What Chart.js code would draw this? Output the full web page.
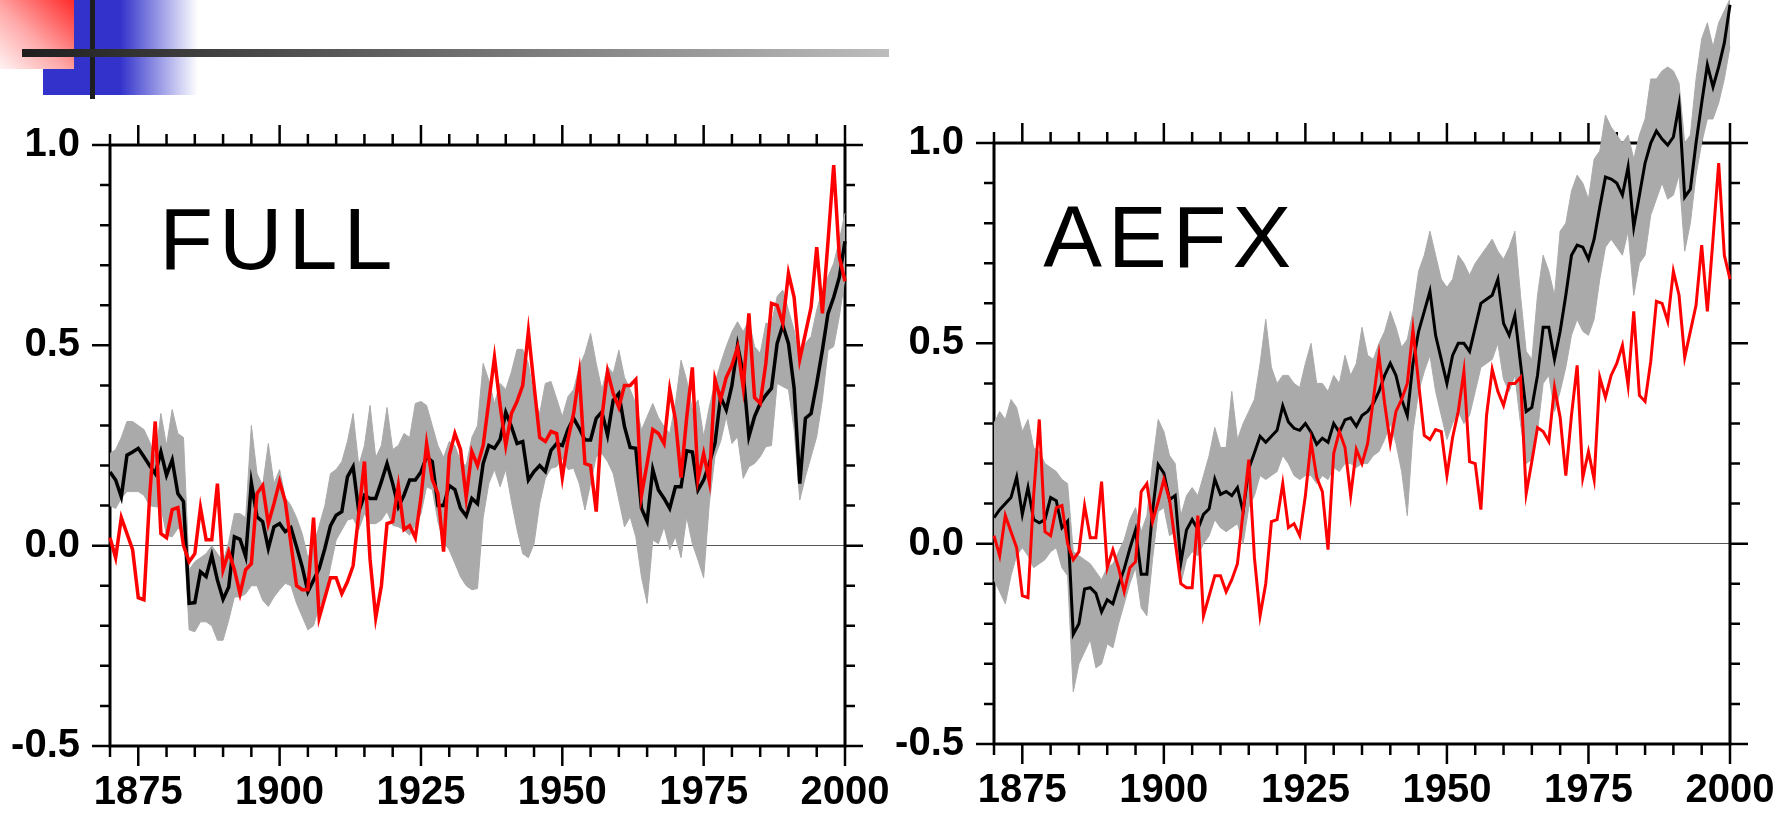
<!DOCTYPE html>
<html>
<head>
<meta charset="utf-8">
<script src="https://cdn.jsdelivr.net/npm/chart.js@4.4.1/dist/chart.umd.min.js"></script>
<style>
    html, body { margin: 0; padding: 0; background: #fff; }
    #page { position: relative; width: 1789px; height: 814px; overflow: hidden; background: #fff; }
    .deco { position: absolute; }
    #blueBlock { left: 43px; top: 0; width: 155px; height: 95px; background: linear-gradient(to right, #3333cc 0%, #3333cc 50%, #ffffff 100%); }
    #redBlock { left: 0; top: 0; width: 74px; height: 69px; background: linear-gradient(to bottom left, #ff2a2a 0%, #ffa8a8 55%, #fff3f3 100%); }
    #vBar { left: 90px; top: 0; width: 5px; height: 99px; background: #1e1e1e; }
    #hBar { left: 22px; top: 49px; width: 867px; height: 8px; background: linear-gradient(to right, #1e1e1e, #bdbdbd); }
    canvas { position: absolute; top: 0; }
</style>
</head>
<body>
<div id="page">
    <div class="deco" id="blueBlock"></div>
    <div class="deco" id="redBlock"></div>
    <div class="deco" id="vBar"></div>
    <div class="deco" id="hBar"></div>
    <canvas id="full_chart" width="894" height="814" style="left:0px"></canvas>
    <canvas id="aefx_chart" width="895" height="814" style="left:894px"></canvas>
</div>
<script>
// years 1870 .. 2000, one value per year
var firstYear = 1870;
var lastYear = 2000;

var xLabelYears = [1875, 1900, 1925, 1950, 1975, 2000];
var yLabelValues = [-0.5, 0.0, 0.5, 1.0];

// observed temperature (red), same in both panels
var observed = [
    0.02, -0.03, 0.07, 0.03, -0.01, -0.13, -0.135, 0.12, 0.31, 0.03,
    0.02, 0.09, 0.095, 0.00, -0.04, -0.02, 0.095, 0.015, 0.015, 0.155,
    -0.06, -0.015, -0.06, -0.12, -0.06, -0.045, 0.13, 0.15, 0.055, 0.105,
    0.16, 0.11, 0.005, -0.10, -0.11, -0.11, 0.07, -0.18, -0.13, -0.08,
    -0.08, -0.12, -0.09, -0.05, 0.08, 0.21, -0.035, -0.18, -0.10, 0.055,
    0.06, 0.15, 0.04, 0.05, 0.02, 0.12, 0.255, 0.165, 0.13, -0.015,
    0.225, 0.28, 0.24, 0.12, 0.235, 0.20, 0.25, 0.36, 0.47, 0.35,
    0.25, 0.33, 0.36, 0.40, 0.535, 0.40, 0.27, 0.26, 0.285, 0.28,
    0.17, 0.265, 0.33, 0.43, 0.205, 0.20, 0.085, 0.32, 0.435, 0.38,
    0.345, 0.40, 0.40, 0.415, 0.125, 0.205, 0.29, 0.28, 0.255, 0.39,
    0.315, 0.17, 0.32, 0.445, 0.165, 0.23, 0.16, 0.415, 0.365, 0.42,
    0.45, 0.495, 0.395, 0.58, 0.37, 0.355, 0.455, 0.605, 0.60, 0.555,
    0.68, 0.62, 0.465, 0.53, 0.595, 0.745, 0.58, 0.76, 0.95, 0.72,
    0.66
];

// FULL ensemble: mean (black) and range (grey)
var fullMean = [
    0.184, 0.164, 0.122, 0.226, 0.234, 0.243, 0.222, 0.20, 0.18, 0.234,
    0.176, 0.214, 0.13, 0.11, -0.144, -0.142, -0.065, -0.077, -0.024, -0.086,
    -0.134, -0.103, 0.022, 0.016, -0.027, 0.157, 0.072, 0.06, -0.007, 0.047,
    0.055, 0.035, 0.045, -0.003, -0.053, -0.115, -0.086, -0.057, -0.007, 0.05,
    0.076, 0.085, 0.172, 0.197, 0.085, 0.126, 0.118, 0.118, 0.16, 0.205,
    0.155, 0.097, 0.126, 0.164, 0.164, 0.184, 0.222, 0.21, 0.10, 0.10,
    0.15, 0.14, 0.093, 0.074, 0.118, 0.105, 0.205, 0.25, 0.243, 0.265,
    0.333, 0.297, 0.255, 0.26, 0.164, 0.185, 0.20, 0.185, 0.238, 0.255,
    0.25, 0.29, 0.318, 0.293, 0.264, 0.264, 0.318, 0.334, 0.276, 0.363,
    0.38, 0.297, 0.245, 0.243, 0.093, 0.061, 0.19, 0.139, 0.118, 0.093,
    0.147, 0.147, 0.237, 0.234, 0.139, 0.164, 0.205, 0.255, 0.372, 0.339,
    0.40, 0.50, 0.43, 0.272, 0.322, 0.355, 0.376, 0.393, 0.505, 0.55,
    0.505, 0.393, 0.155, 0.318, 0.33, 0.405, 0.488, 0.58, 0.62, 0.67,
    0.76
];
var fullHigh = [
    0.23, 0.24, 0.27, 0.31, 0.31, 0.30, 0.29, 0.26, 0.22, 0.33,
    0.25, 0.34, 0.28, 0.27, -0.06, -0.04, -0.03, -0.02, 0.00, -0.02,
    -0.04, 0.01, 0.08, 0.08, 0.07, 0.30, 0.18, 0.15, 0.255, 0.155,
    0.19, 0.12, 0.10, 0.07, 0.03, -0.03, 0.00, 0.05, 0.10, 0.18,
    0.19, 0.21, 0.26, 0.33, 0.20, 0.25, 0.35, 0.22, 0.25, 0.345,
    0.24, 0.25, 0.28, 0.27, 0.355, 0.36, 0.35, 0.30, 0.25, 0.22,
    0.26, 0.25, 0.21, 0.20, 0.27, 0.30, 0.455, 0.413, 0.355, 0.405,
    0.39, 0.434, 0.49, 0.49, 0.455, 0.367, 0.33, 0.405, 0.41, 0.367,
    0.322, 0.372, 0.39, 0.447, 0.48, 0.53, 0.455, 0.39, 0.447, 0.43,
    0.488, 0.42, 0.39, 0.355, 0.289, 0.322, 0.355, 0.32, 0.297, 0.28,
    0.355, 0.463, 0.413, 0.339, 0.364, 0.272, 0.347, 0.405, 0.455, 0.497,
    0.534, 0.559, 0.534, 0.563, 0.497, 0.48, 0.555, 0.555, 0.622, 0.638,
    0.588, 0.538, 0.463, 0.505, 0.522, 0.588, 0.638, 0.672, 0.705, 0.763,
    0.83
];
var fullLow = [
    0.10, 0.093, 0.118, 0.135, 0.135, 0.135, 0.126, 0.10, 0.097, 0.097,
    0.026, 0.022, 0.043, 0.04, -0.21, -0.215, -0.19, -0.19, -0.20, -0.236,
    -0.236, -0.186, -0.128, -0.128, -0.12, -0.10, -0.10, -0.136, -0.152, -0.128,
    -0.11, -0.094, -0.10, -0.144, -0.177, -0.21, -0.20, -0.152, -0.128, -0.053,
    0.014, 0.039, 0.064, 0.068, 0.04, 0.08, 0.055, 0.055, 0.064, 0.085,
    0.051, 0.047, 0.039, 0.026, 0.051, 0.08, 0.147, 0.14, 0.06, 0.01,
    -0.011, -0.044, -0.078, -0.10, -0.11, -0.107, 0.07, 0.155, 0.19, 0.147,
    0.19, 0.11, 0.04, -0.02, -0.03, 0.005, 0.105, 0.168, 0.193, 0.197,
    0.218, 0.19, 0.193, 0.155, 0.089, 0.155, 0.222, 0.23, 0.21, 0.18,
    0.114, 0.047, 0.072, 0.022, -0.078, -0.144, 0.014, 0.005, 0.047, -0.01,
    0.022, -0.03, 0.072, 0.005, -0.036, -0.08, 0.105, 0.222, 0.26, 0.322,
    0.255, 0.272, 0.168, 0.197, 0.205, 0.222, 0.247, 0.25, 0.405, 0.397,
    0.39, 0.289, 0.114, 0.172, 0.222, 0.272, 0.364, 0.488, 0.497, 0.572,
    0.67
];

// AEFX ensemble: mean (black) and range (grey)
var aefxMean = [
    0.065, 0.085, 0.10, 0.115, 0.166, 0.073, 0.14, 0.06, 0.052, 0.06,
    0.115, 0.107, 0.04, 0.056, -0.226, -0.20, -0.113, -0.11, -0.124, -0.17,
    -0.14, -0.15, -0.103, -0.063, -0.012, 0.034, -0.076, -0.076, 0.08, 0.197,
    0.176, 0.11, 0.12, -0.048, 0.034, 0.06, 0.036, 0.073, 0.087, 0.161,
    0.123, 0.13, 0.12, 0.14, 0.08, 0.187, 0.227, 0.268, 0.253, 0.268,
    0.283, 0.344, 0.304, 0.288, 0.283, 0.30, 0.278, 0.248, 0.263, 0.253,
    0.30, 0.278, 0.309, 0.314, 0.293, 0.32, 0.33, 0.35, 0.38, 0.42,
    0.45, 0.42, 0.36, 0.32, 0.45, 0.53, 0.58, 0.63, 0.52, 0.46,
    0.40, 0.47, 0.50, 0.50, 0.48, 0.54, 0.60, 0.61, 0.62, 0.66,
    0.55, 0.52, 0.57, 0.45, 0.33, 0.34, 0.42, 0.54, 0.54, 0.46,
    0.53, 0.62, 0.72, 0.745, 0.74, 0.71, 0.76, 0.84, 0.915, 0.91,
    0.90, 0.87, 0.94, 0.79, 0.87, 0.95, 1.00, 1.03, 1.01, 0.995,
    1.015, 1.095, 0.865, 0.885, 1.00, 1.10, 1.195, 1.14, 1.19, 1.25,
    1.345
];
var aefxHigh = [
    0.30, 0.33, 0.31, 0.36, 0.34, 0.28, 0.31, 0.24, 0.23, 0.20,
    0.19, 0.18, 0.16, 0.15, -0.02, -0.03, -0.04, -0.05, -0.07, -0.09,
    -0.06, -0.05, -0.02, 0.01, 0.06, 0.09, 0.03, 0.07, 0.20, 0.31,
    0.28, 0.22, 0.20, 0.07, 0.12, 0.14, 0.12, 0.17, 0.22, 0.29,
    0.24, 0.24, 0.38, 0.26, 0.30, 0.33, 0.36, 0.45, 0.56, 0.44,
    0.40, 0.42, 0.42, 0.40, 0.39, 0.45, 0.50, 0.40, 0.40, 0.38,
    0.42, 0.40, 0.47, 0.42, 0.45, 0.54, 0.47, 0.46, 0.50, 0.53,
    0.58, 0.54, 0.49, 0.51, 0.58, 0.68, 0.72, 0.78, 0.72, 0.66,
    0.64, 0.66, 0.72, 0.70, 0.67, 0.70, 0.72, 0.74, 0.76, 0.73,
    0.71, 0.74, 0.78, 0.62, 0.48, 0.46, 0.62, 0.72, 0.68, 0.62,
    0.78, 0.80, 0.88, 0.92, 0.90, 0.86, 0.96, 0.98, 1.07, 1.04,
    1.02, 1.00, 1.02, 0.96, 1.02, 1.06, 1.16, 1.16, 1.18, 1.19,
    1.18, 1.15, 1.00, 1.02, 1.16, 1.26, 1.30, 1.24, 1.30, 1.33,
    1.36
];
var aefxLow = [
    -0.09, -0.12, -0.15, -0.08, -0.03, -0.01, -0.03, -0.06, -0.05, -0.04,
    -0.02, -0.01, -0.06, -0.08, -0.37, -0.30, -0.27, -0.24, -0.31, -0.30,
    -0.25, -0.26, -0.20, -0.15, -0.10, -0.06, -0.16, -0.18, -0.04, 0.08,
    0.09, 0.02, 0.03, -0.10, -0.04, -0.02, -0.03, 0.00, 0.02, 0.06,
    0.04, 0.03, 0.04, 0.05, 0.00, 0.09, 0.12, 0.17, 0.16, 0.17,
    0.18, 0.22, 0.20, 0.17, 0.16, 0.17, 0.17, 0.15, 0.17, 0.16,
    0.19, 0.18, 0.20, 0.20, 0.19, 0.20, 0.20, 0.22, 0.23, 0.26,
    0.30, 0.25, 0.18, 0.07, 0.28, 0.38, 0.43, 0.47, 0.38, 0.32,
    0.26, 0.30, 0.33, 0.30, 0.32, 0.38, 0.44, 0.45, 0.46, 0.50,
    0.41, 0.38, 0.42, 0.30, 0.20, 0.21, 0.28, 0.40, 0.42, 0.33,
    0.38, 0.44, 0.52, 0.56, 0.53, 0.52, 0.56, 0.66, 0.74, 0.76,
    0.74, 0.72, 0.78, 0.62, 0.70, 0.72, 0.82, 0.86, 0.90, 0.86,
    0.87, 0.92, 0.73, 0.80, 0.92, 1.00, 1.06, 1.06, 1.10, 1.16,
    1.24
];

var years = [];
for (var yr = firstYear; yr <= lastYear; yr++) {
    years.push(yr);
}

var tickFont = { family: '"Liberation Sans", Arial, sans-serif', weight: 'bold', size: 40 };
var titleFont = '88px "Liberation Sans", Arial, sans-serif';

function points(values) {
    return values.map(function (v, i) {
        return { x: years[i], y: v };
    });
}

function isMajor(value, step) {
    return Math.abs(value / step - Math.round(value / step)) < 1e-6;
}

// box round the plot plus the tick marks on all four sides
var panelFrame = {
    id: 'panelFrame',
    beforeDatasetsDraw: function (chart) {
        var ctx = chart.ctx;
        var xs = chart.scales.x, ys = chart.scales.y;
        var left = xs.getPixelForValue(firstYear);
        var right = xs.getPixelForValue(lastYear);
        var top = ys.getPixelForValue(1.0);
        var bottom = ys.getPixelForValue(-0.5);

        ctx.save();
        ctx.strokeStyle = '#000';
        ctx.lineWidth = 3;
        ctx.strokeRect(left, top, right - left, bottom - top);

        ctx.lineWidth = 2.5;
        ctx.beginPath();
        for (var yr = firstYear; yr <= lastYear; yr += 5) {
            var px = xs.getPixelForValue(yr);
            var len = isMajor(yr, 25) ? 20 : 11;
            ctx.moveTo(px, bottom);
            ctx.lineTo(px, bottom + len);
            ctx.moveTo(px, top);
            ctx.lineTo(px, top - len);
        }
        for (var k = 0; k <= 15; k++) {
            var v = -0.5 + k * 0.1;
            var py = ys.getPixelForValue(v);
            var ylen = isMajor(v, 0.5) ? 18 : 10;
            ctx.moveTo(left, py);
            ctx.lineTo(left - ylen, py);
            ctx.moveTo(right, py);
            ctx.lineTo(right + ylen, py);
        }
        ctx.stroke();
        ctx.restore();
    }
};

var panelTitle = {
    id: 'panelTitle',
    afterDatasetsDraw: function (chart, args, opts) {
        var ctx = chart.ctx;
        ctx.save();
        ctx.font = titleFont;
        ctx.letterSpacing = '6px';
        ctx.fillStyle = '#000';
        ctx.textBaseline = 'alphabetic';
        ctx.fillText(opts.text, chart.scales.x.getPixelForValue(opts.year), chart.scales.y.getPixelForValue(opts.value));
        ctx.restore();
    }
};

function renderPanel(canvasId, panel) {
    var context = document.getElementById(canvasId).getContext('2d');

    return new Chart(context, {
        type: 'line',
        data: {
            datasets: [
                {
                    label: 'range low',
                    data: points(panel.low),
                    borderColor: '#aaaaaa',
                    borderWidth: 1,
                    pointRadius: 0,
                    fill: false,
                    order: 3,
                    clip: false
                },
                {
                    label: 'range high',
                    data: points(panel.high),
                    borderColor: '#aaaaaa',
                    borderWidth: 1,
                    backgroundColor: '#aaaaaa',
                    pointRadius: 0,
                    fill: '-1',
                    order: 2,
                    clip: false
                },
                {
                    label: 'ensemble mean',
                    data: points(panel.mean),
                    borderColor: '#000000',
                    borderWidth: panel.lineWidth,
                    pointRadius: 0,
                    fill: false,
                    order: 1,
                    clip: false
                },
                {
                    label: 'observed',
                    data: points(observed),
                    borderColor: '#ff0000',
                    borderWidth: panel.lineWidth,
                    pointRadius: 0,
                    fill: false,
                    order: 0,
                    clip: false
                }
            ]
        },
        options: {
            responsive: false,
            animation: false,
            devicePixelRatio: 1,
            layout: {
                autoPadding: false,
                padding: { left: 0, top: 0, right: panel.padRight, bottom: 0 }
            },
            plugins: {
                legend: { display: false },
                tooltip: { enabled: false },
                panelTitle: { text: panel.title, year: 1878.7, value: 0.69 }
            },
            scales: {
                x: {
                    type: 'linear',
                    min: firstYear,
                    max: lastYear,
                    afterBuildTicks: function (s) {
                        s.ticks = xLabelYears.map(function (v) { return { value: v }; });
                    },
                    afterFit: function (s) {
                        s.height = panel.xAxisHeight;
                        s.paddingLeft = 0;
                        s.paddingRight = 0;
                    },
                    grid: { display: false, drawTicks: false },
                    border: { display: false },
                    ticks: {
                        font: tickFont,
                        color: '#000',
                        padding: 23,
                        maxRotation: 0,
                        autoSkip: false,
                        callback: function (v) { return String(v); }
                    }
                },
                y: {
                    type: 'linear',
                    min: -0.5,
                    max: panel.yTop,
                    afterBuildTicks: function (s) {
                        s.ticks = yLabelValues.map(function (v) { return { value: v }; });
                    },
                    afterFit: function (s) {
                        s.width = panel.yAxisWidth;
                        s.paddingTop = 0;
                        s.paddingBottom = 0;
                    },
                    grid: {
                        drawTicks: false,
                        lineWidth: 1,
                        color: function (c) {
                            return c.tick && Math.abs(c.tick.value) < 1e-9 ? '#555555' : 'rgba(0,0,0,0)';
                        }
                    },
                    border: { display: false },
                    ticks: {
                        font: tickFont,
                        color: '#000',
                        padding: 30,
                        autoSkip: false,
                        callback: function (v) { return Number(v).toFixed(1); }
                    }
                }
            }
        },
        plugins: [panelFrame, panelTitle]
    });
}

renderPanel('full_chart', {
    title: 'FULL',
    mean: fullMean, high: fullHigh, low: fullLow,
    lineWidth: 3.5,
    yAxisWidth: 110, padRight: 49, xAxisHeight: 68, yTop: 1.362
});

renderPanel('aefx_chart', {
    title: 'AEFX',
    mean: aefxMean, high: aefxHigh, low: aefxLow,
    lineWidth: 3,
    yAxisWidth: 100, padRight: 59, xAxisHeight: 70, yTop: 1.357
});
</script>
</body>
</html>
